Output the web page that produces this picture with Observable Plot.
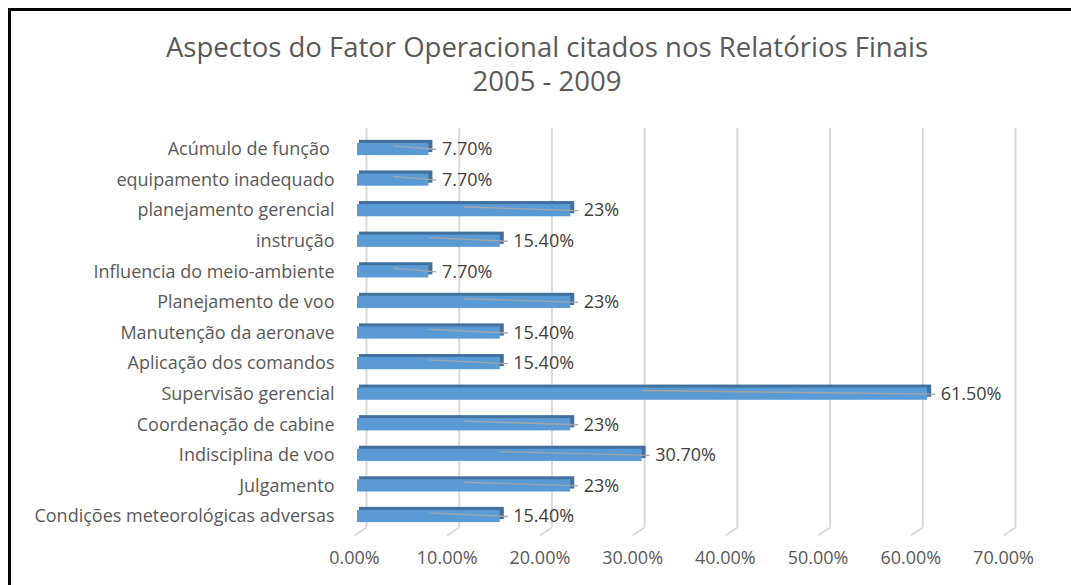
<!DOCTYPE html>
<html><head><meta charset="utf-8">
<script src="https://cdn.jsdelivr.net/npm/d3@7"></script>
<script src="https://cdn.jsdelivr.net/npm/@observablehq/plot@0.6"></script>
<style>
html,body{margin:0;padding:0;background:#fff;overflow:hidden;width:1071px;height:585px;}
#frame{position:absolute;left:8px;top:8px;width:1100px;height:620px;border-top:3px solid #000;border-left:3px solid #000;}
.title{position:absolute;left:0;width:1094px;text-align:center;font-family:"Open Sans",sans-serif;font-size:27.5px;line-height:32px;height:32px;color:#595959;white-space:nowrap;}
#t1{top:31px;}
#t2{top:65px;}
#chart{position:absolute;left:0;top:100px;}
</style></head>
<body>
<div id="frame"></div>
<div class="title" id="t1">Aspectos do Fator Operacional citados nos Relatórios Finais</div>
<div class="title" id="t2">2005 - 2009</div>
<div id="chart"></div>
<script>
const categories = ["Acúmulo de função ", "equipamento inadequado", "planejamento gerencial", "instrução", "Influencia do meio-ambiente", "Planejamento de voo", "Manutenção da aeronave", "Aplicação dos comandos", "Supervisão gerencial", "Coordenação de cabine", "Indisciplina de voo", "Julgamento", "Condições meteorológicas adversas"];
const values = [7.7, 7.7, 23, 15.4, 7.7, 23, 15.4, 15.4, 61.5, 23, 30.7, 23, 15.4];
const valueLabels = ["7.70%", "7.70%", "23%", "15.40%", "7.70%", "23%", "15.40%", "15.40%", "61.50%", "23%", "30.70%", "23%", "15.40%"];
const xTicks = [0, 10, 20, 30, 40, 50, 60, 70];
const xTickLabels = ["0.00%", "10.00%", "20.00%", "30.00%", "40.00%", "50.00%", "60.00%", "70.00%"];

const data = categories.map((c, i) => ({i, c, v: values[i], label: valueLabels[i]}));
const font = '"Open Sans", sans-serif';
const pxPerUnit = 649 / 70;

const plot = Plot.plot({
  width: 1071,
  height: 485,
  marginLeft: 357,
  marginRight: 65,
  marginTop: 49,
  marginBottom: 69,
  style: {fontFamily: font, background: "transparent"},
  x: {domain: [0, 70], label: null},
  y: {domain: [0, 12], reverse: true, label: null},
  marks: [
    Plot.ruleX(xTicks, {x: d => d, y1: -0.69, y2: 12.36, dx: 9, stroke: "#d9d9d9", strokeWidth: 2}),
    Plot.link(xTicks, {x1: d => d, x2: d => d - 12 / pxPerUnit, y1: 12.36, y2: 12.62, dx: 9, stroke: "#d9d9d9", strokeWidth: 2}),
    Plot.axisX({ticks: xTicks, tickSize: 0, tickPadding: 35, dx: -3, fontSize: 18, fill: "#595959", label: null, tickFormat: d => xTickLabels[xTicks.indexOf(d)]}),
    Plot.axisY({ticks: d3.range(categories.length), tickSize: 0, tickPadding: 23, fontSize: 18, fill: "#595959", label: null, tickFormat: i => categories[i]}),
    // depth (top + side faces)
    Plot.rectX(data, {x1: 0, x2: "v", y1: d => d.i - 0.2, y2: d => d.i + 0.2, dx: 4, dy: -3, fill: "#41719c", insetLeft: -2}),
    // front face
    Plot.rectX(data, {x1: 0, x2: "v", y1: d => d.i - 0.2, y2: d => d.i + 0.2, fill: "#5b9bd5"}),
    // leader lines
    Plot.link(data, {x1: d => d.v / 2, x2: d => d.v + 0.8, y1: d => d.i - 0.12, y2: d => d.i, stroke: "#a5a5a5", strokeWidth: 1.3}),
    Plot.text(data, {x: "v", y: "i", text: "label", textAnchor: "start", dx: 13, fontSize: 18, fill: "#404040"})
  ]
});
document.getElementById("chart").appendChild(plot);
</script>
</body></html>
